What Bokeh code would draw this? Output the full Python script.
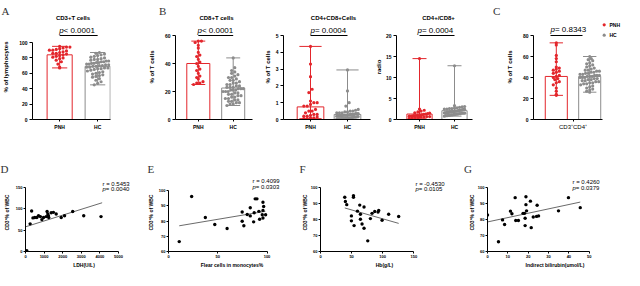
from bokeh.plotting import figure
from bokeh.layouts import row, column
from bokeh.models import Range1d
from bokeh.core.properties import value
from bokeh.embed import file_html
from bokeh.resources import INLINE

RED = "#e3262c"
GRAY = "#8c8c8c"
FONT = "Liberation Sans"
SERIF = "Liberation Serif"

groups = ["PNH", "HC"]

# ---- Panel A: CD3+ T cells (% of lymphocytes)
cd3_pnh = [95, 94, 94, 93, 92, 91, 90, 90, 89, 88, 87, 86, 86, 85, 84, 83, 82, 81, 80, 79, 77, 75, 72, 68, 67]
cd3_hc = [87, 86, 85, 84, 83, 82, 81, 80, 79, 78, 78, 77, 76, 76, 75, 75, 74, 74, 73, 73, 72, 72, 71, 71, 70,
          70, 69, 69, 68, 68, 67, 67, 66, 66, 65, 64, 63, 62, 61, 60, 59, 58, 57, 56, 55, 53, 51, 49, 47, 45]
cd3_bar = [84, 69]

# ---- Panel B: CD8+ T cells
cd8_pnh = [56, 56, 55, 53, 51, 48, 46, 45, 43, 41, 40, 38, 36, 35, 33, 31, 30, 29, 27, 26, 26, 25]
cd8_hc = [44, 37, 35, 34, 33, 32, 31, 30, 30, 29, 28, 28, 27, 26, 26, 25, 25, 24, 24, 23, 23, 23, 22, 22, 22,
          21, 21, 21, 20, 20, 20, 19, 19, 18, 18, 17, 17, 16, 16, 15, 15, 14, 14, 13, 13, 12, 12, 11, 11, 10]
cd8_bar = [40, 22.5]

# ---- CD4+CD8+ cells
dp_pnh = [4.35, 3.3, 2.55, 1.8, 1.6, 1.1, 1.0, 1.0, 0.9, 0.8, 0.8, 0.6, 0.5, 0.5, 0.4, 0.3, 0.3, 0.25, 0.2, 0.2,
          0.15, 0.1, 0.1, 0.05, 0.05]
dp_hc = [2.95, 1.7, 1.0, 0.8, 0.6, 0.55, 0.5, 0.5, 0.45, 0.45, 0.4, 0.4, 0.4, 0.35, 0.35, 0.35, 0.3, 0.3, 0.3, 0.3,
         0.28, 0.28, 0.25, 0.25, 0.25, 0.22, 0.22, 0.2, 0.2, 0.2, 0.18, 0.18, 0.15, 0.15, 0.15, 0.12, 0.12, 0.1,
         0.1, 0.1, 0.08, 0.08, 0.06, 0.06, 0.05, 0.05, 0.04, 0.03, 0.02, 0.02]
dp_bar = [0.75, 0.3]

# ---- CD4+/CD8+ ratio
ratio_pnh = [14.5, 2.5, 2.2, 2.0, 1.8, 1.6, 1.5, 1.4, 1.3, 1.2, 1.1, 1.0, 1.0, 0.9, 0.9, 0.8, 0.8, 0.7, 0.7, 0.6,
             0.6, 0.5, 0.5, 0.4, 0.3]
ratio_hc = [12.8, 3.3, 3.1, 3.0, 2.9, 2.8, 2.7, 2.6, 2.6, 2.5, 2.5, 2.4, 2.4, 2.3, 2.3, 2.2, 2.2, 2.1, 2.1, 2.0,
            2.0, 2.0, 1.9, 1.9, 1.9, 1.8, 1.8, 1.8, 1.7, 1.7, 1.7, 1.6, 1.6, 1.6, 1.5, 1.5, 1.5, 1.4, 1.4, 1.3,
            1.3, 1.2, 1.2, 1.1, 1.1, 1.0, 1.0, 0.9, 0.9, 0.8]
ratio_bar = [1.3, 2.1]

# ---- Panel C: CD3+CD4+
cd4_pnh = [73, 71, 61, 58, 55, 50, 49, 48, 47, 46, 45, 44, 42, 41, 40, 39, 38, 36, 35, 33, 30, 27, 24, 23]
cd4_hc = [60, 58, 57, 56, 54, 53, 52, 51, 50, 49, 48, 47, 47, 46, 46, 45, 45, 44, 44, 43, 43, 42, 42, 42, 41,
          41, 41, 40, 40, 40, 39, 39, 38, 38, 37, 37, 36, 36, 35, 35, 34, 34, 33, 32, 31, 30, 29, 28, 27, 26]
cd4_bar = [41, 41]

# ---- Panels D-G: correlations
ldh = [30, 70, 250, 330, 400, 500, 610, 700, 800, 880, 970, 1110, 1160, 1200, 1230, 1250, 1380, 1500, 1650,
       1920, 2100, 2540, 3130, 4060]
ldh_cd3 = [0, 2, 65, 95, 79, 80, 80, 84, 82, 75, 80, 82, 94, 88, 84, 80, 91, 92, 88, 80, 84, 94, 84, 82]
ldh_fit_x = [0, 4120]
ldh_fit_y = [58, 114.5]

flaer = [10.9, 23.5, 37.4, 47, 59.5, 74.8, 74.8, 76.5, 79.9, 83, 83, 86.4, 87, 88, 89.8, 91.8, 92.5, 95.9,
         96.6, 95.9, 95.2, 95.9, 98.6]
flaer_cd3 = [66.5, 96.1, 82.3, 77.7, 75.1, 79.9, 86, 76.9, 84.3, 88.8, 83.4, 79.5, 85.5, 94.6, 94.6, 86.4,
             81.2, 92.4, 89.6, 87, 84.2, 82, 84.2]
flaer_fit_x = [10.9, 98.3]
flaer_fit_y = [76.9, 86.4]

hb = [39, 40, 42.2, 53, 53, 49.7, 49.7, 54, 59.4, 63.1, 64.2, 64.2, 66.8, 70, 70, 76, 80.2, 82.9, 87.2, 92.5,
      93.6, 99, 109.6, 125.7]
hb_cd3 = [94.1, 91.5, 89.5, 95.1, 94.1, 82.4, 79.3, 76.3, 85.4, 89.2, 83.4, 80.3, 77.3, 88, 74.6, 66.7, 80.7,
          84, 85.2, 84.8, 85.8, 79.7, 83.4, 82]
hb_fit_x = [39, 125.7]
hb_fit_y = [87.4, 77.7]

ibil = [0, 5.4, 7.4, 8.4, 11.3, 12, 13.6, 13.9, 15.2, 17.5, 18.2, 18.5, 18.5, 18.9, 18.9, 19.2, 21.1, 21.5,
        22.5, 24.1, 24.4, 25.1, 34.9, 39.8, 45.6]
ibil_cd3 = [83, 66.1, 79.9, 77, 85.4, 83.8, 93.9, 79.5, 79.5, 84, 84, 80.9, 76.3, 94.5, 89.5, 85.6, 91.7, 75,
            81.7, 82.1, 89.1, 82.4, 85.6, 93.9, 87.6]
ibil_fit_x = [0, 45.6]
ibil_fit_y = [78.6, 91.1]


# ------------------------------------------------------------------ helpers
class Geo:
    def __init__(self, fl, fb, x0, xppu, y0, yppu):
        self.fl, self.fb, self.x0, self.xppu, self.y0, self.yppu = fl, fb, x0, xppu, y0, yppu

    def X(self, px):
        return self.x0 + (px - self.fl) / self.xppu

    def Y(self, py):
        return self.y0 + (self.fb - py) / self.yppu


def style(p, tick_font, label_font, ylab_standoff, xlab_standoff=1, tick_out=3, mstand=2):
    p.xgrid.visible = False
    p.ygrid.visible = False
    p.outline_line_color = None
    p.background_fill_color = "white"
    p.border_fill_color = "white"
    for ax in (p.xaxis[0], p.yaxis[0]):
        ax.axis_line_color = "black"
        ax.axis_line_width = 1
        ax.major_tick_line_color = "black"
        ax.major_tick_out = tick_out
        ax.major_tick_in = 0
        ax.minor_tick_line_color = None
        ax.major_label_text_font = FONT
        ax.major_label_text_font_style = "bold"
        ax.major_label_text_font_size = tick_font
        ax.major_label_text_color = "black"
        ax.major_label_standoff = mstand
        ax.axis_label_text_font = FONT
        ax.axis_label_text_font_style = "bold"
        ax.axis_label_text_font_size = label_font
        ax.axis_label_text_color = "black"
    p.yaxis[0].axis_label_standoff = ylab_standoff
    p.xaxis[0].axis_label_standoff = xlab_standoff


def panel_letter(p, text, offset, standoff):
    p.title.text = text
    p.title.align = "left"
    p.title.offset = offset
    p.title.standoff = standoff
    p.title.text_font = SERIF
    p.title.text_font_size = "11px"
    p.title.text_font_style = "normal"
    p.title.text_color = "#333333"


def swarm(vals, center, binsize, step=0.09, maxoff=0.29):
    order = sorted(range(len(vals)), key=lambda i: vals[i])
    bins = {}
    for i in order:
        bins.setdefault(int(vals[i] // binsize), []).append(i)
    xs = [center] * len(vals)
    for idx in bins.values():
        n = len(idx)
        st = step if n <= 1 else min(step, 2 * maxoff / (n - 1))
        for k, i in enumerate(idx):
            xs[i] = center + (k - (n - 1) / 2) * st
    return xs


def ptext(p, geo, px, py, rest, size, italic_w):
    p.text(x=[geo.X(px)], y=[geo.Y(py)], text=["p"], text_font=value(FONT), text_font_style="italic",
           text_font_size=size, text_align="left", text_baseline="middle", text_color="black")
    p.text(x=[geo.X(px + italic_w)], y=[geo.Y(py)], text=[rest], text_font=value(FONT),
           text_font_size=size, text_align="left", text_baseline="middle", text_color="black")


ROW1_TOP, FT, FB1, ROW1_BOT = 8, 22, 127, 142


def make_top(fig_left, fig_w, fl, fr, c1, xppu, ytop_val, ytop_px, yticks, ylabel, ylab_standoff):
    x0 = 1 - (c1 - fl) / xppu
    x1 = x0 + (fr - fl) / xppu
    yppu = (FB1 - ytop_px) / ytop_val
    y1 = (FB1 - FT) / yppu
    p = figure(width=fig_w, height=ROW1_BOT - ROW1_TOP, x_range=Range1d(x0, x1), y_range=Range1d(0, y1),
               min_border_left=fl - fig_left, min_border_right=fig_left + fig_w - fr,
               min_border_top=FT - ROW1_TOP, min_border_bottom=ROW1_BOT - FB1,
               output_backend="svg", toolbar_location=None)
    style(p, "5px", "6px", ylab_standoff, tick_out=3)
    p.yaxis[0].bounds = (0, ytop_val)
    p.yaxis[0].ticker = yticks
    p.yaxis[0].axis_label = ylabel
    p.xaxis[0].ticker = [1, 2]
    p.xaxis[0].major_label_overrides = {1: groups[0], 2: groups[1]}
    p.xaxis[0].major_tick_out = 2
    return p, Geo(fl, FB1, x0, xppu, 0, yppu)


def draw_groups(p, series, bars, positions, binsize, width=0.66, cap=0.4, step=0.09):
    for vals, bar, col, pos in zip(series, bars, [RED, GRAY], positions):
        p.vbar(x=[pos], top=[bar], width=width, fill_color="white", line_color=col, line_width=1)
        lo, hi = min(vals), max(vals)
        p.segment(x0=[pos], y0=[lo], x1=[pos], y1=[hi], line_color=col, line_width=1)
        p.segment(x0=[pos - cap / 2] * 2, y0=[lo, hi], x1=[pos + cap / 2] * 2, y1=[lo, hi],
                  line_color=col, line_width=1)
        xs = swarm(vals, pos, binsize, step=step)
        p.scatter(xs, vals, size=3.2, fill_color=col, line_color=None)


def title_p(p, geo, title, title_px, rest, p_start_px, bar_x, p_py=38, bar_py=43):
    if title:
        p.text(x=[geo.X(title_px)], y=[geo.Y(25.5)], text=[title], text_font=value(FONT), text_font_style="bold",
               text_font_size="6px", text_align="center", text_baseline="middle", text_color="black")
    ptext(p, geo, p_start_px, p_py, rest, "8px", 4.4)
    p.segment(x0=[bar_x[0]], y0=[geo.Y(bar_py)], x1=[bar_x[1]], y1=[geo.Y(bar_py)], line_color="black",
              line_width=1)


# ---- A
pA, gA = make_top(8, 142, 39, 118, 66.5, 38.5, 100, 50, [0, 20, 40, 60, 80, 100], "% of lymphocytes", 7)
draw_groups(pA, [cd3_pnh, cd3_hc], cd3_bar, [1, 2], 4.5)
title_p(pA, gA, "CD3+T cells", 80, " < 0.0001", 66, (1, 2))
panel_letter(pA, "A", 8 - 39, -4)

# ---- B1
pB1, gB1 = make_top(150, 112, 183, 260, 205.8, 34.9, 60, 43, [0, 20, 40, 60], "% of T cells", 7)
draw_groups(pB1, [cd8_pnh, cd8_hc], cd8_bar, [1, 2], 2.5)
title_p(pB1, gB1, "CD8+T cells", 224, " < 0.0001", 205, (1, 2))
panel_letter(pB1, "B", 166.5 - 183, -4)

# ---- B2
pB2, gB2 = make_top(262, 118, 291, 378, 318, 37, 5, 43, [0, 1, 2, 3, 4, 5], "% of T cells", 2)
draw_groups(pB2, [dp_pnh, dp_hc], dp_bar, [1, 2], 0.2, width=0.72, cap=0.6)
title_p(pB2, gB2, "CD4+CD8+Cells", 341, "= 0.0004", 318, (1, 2))

# ---- B3
pB3, gB3 = make_top(380, 102, 404, 480, 427, 35, 20, 43, [0, 5, 10, 15, 20], "radio", 1)
draw_groups(pB3, [ratio_pnh, ratio_hc], ratio_bar, [1, 2], 0.8, width=0.72, cap=0.4)
title_p(pB3, gB3, "CD4+/CD8+", 446, "= 0.0004", 425, (1, 2))

# ---- C
pC, gC = make_top(482, 150, 541, 630, 563.8, 33.4, 80, 43, [0, 20, 40, 60, 80], "% of T cells", 7)
pC.xaxis[0].bounds = (gC.x0, gC.X(610))
pC.xaxis[0].ticker = [1.5]
pC.xaxis[0].major_label_overrides = {1.5: "CD3\u207aCD4\u207a"}
pC.xaxis[0].major_label_text_font_style = "normal"
pC.xaxis[0].major_label_text_font_size = "6px"
draw_groups(pC, [cd4_pnh, cd4_hc], cd4_bar, [1, 2], 3.3)
title_p(pC, gC, None, 0, "= 0.8343", 558, (gC.X(558), gC.X(590)), p_py=37, bar_py=43)
pC.scatter([gC.X(611.7)] * 2, [gC.Y(32.3), gC.Y(42.7)], size=3.2, fill_color=[RED, GRAY], line_color=None)
pC.text(x=[gC.X(617)] * 2, y=[gC.Y(32.3), gC.Y(42.7)], text=groups, text_font=value(FONT),
        text_font_style="bold", text_font_size="5px", text_align="left", text_baseline="middle",
        text_color="black")
panel_letter(pC, "C", 500.5 - 541, -4)

# ------------------------------------------------------------------ bottom row
ROW2_TOP, FT2, FB2, ROW2_BOT = 142, 181, 262, 278


def make_bot(fig_left, fig_w, fl, fr, xppu, xb, y0, yppu, yb, xticks, yticks, xlabel, ylab_standoff):
    x1 = (fr - fl) / xppu
    y1 = y0 + (FB2 - FT2) / yppu
    p = figure(width=fig_w, height=ROW2_BOT - ROW2_TOP, x_range=Range1d(0, x1), y_range=Range1d(y0, y1),
               min_border_left=fl - fig_left, min_border_right=fig_left + fig_w - fr,
               min_border_top=FT2 - ROW2_TOP, min_border_bottom=ROW2_BOT - FB2,
               output_backend="svg", toolbar_location=None)
    style(p, "4px", "5px", ylab_standoff, xlab_standoff=1, tick_out=2, mstand=1)
    p.xaxis[0].bounds = xb
    p.yaxis[0].bounds = yb
    p.xaxis[0].ticker = xticks
    p.yaxis[0].ticker = yticks
    p.xaxis[0].axis_label = xlabel
    p.yaxis[0].axis_label = "CD3\u207a% of WBC"
    return p, Geo(fl, FB2, 0, xppu, y0, yppu)


def corr(p, g, xs, ys, fx, fy, rtext, ptxt, tx, ty):
    p.line(fx, fy, line_color="#444444", line_width=0.8)
    p.scatter(xs, ys, size=3.4, fill_color="black", line_color=None)
    p.text(x=[g.X(tx)], y=[g.Y(ty)], text=[rtext], text_font=value(FONT), text_font_size="6px",
           text_align="left", text_baseline="middle", text_color="black")
    ptext(p, g, tx, ty + 5.8, ptxt, "6px", 3.3)


pD, gD = make_bot(8, 144, 33, 150, 0.0186, (0, 5000), 0, 0.442, (0, 150),
                  [0, 1000, 2000, 3000, 4000, 5000], [0, 50, 100, 150], "LDH(U/L)", 3)
corr(pD, gD, ldh, ldh_cd3, ldh_fit_x, ldh_fit_y, "r = 0.5453", " = 0.0040", 110, 191.5)
panel_letter(pD, "D", 8 - 33, -3)

pE, gE = make_bot(152, 153, 176, 303, 0.985, (0, 100), 60, 1.58, (60, 100),
                  [0, 50, 100], [60, 70, 80, 90, 100], "Flear cells in monocytes%", 2)
corr(pE, gE, flaer, flaer_cd3, flaer_fit_x, flaer_fit_y, "r = 0.4099", " = 0.0303", 260, 189)
panel_letter(pE, "E", 155 - 176, -3)

pF, gF = make_bot(305, 153, 328, 456, 0.622, (0, 150), 60, 1.65, (60, 100),
                  [0, 50, 100, 150], [60, 70, 80, 90, 100], "Hb(g/L)", 0)
corr(pF, gF, hb, hb_cd3, hb_fit_x, hb_fit_y, "r = -0.4530", " = 0.0105", 423, 191.5)
panel_letter(pF, "F", 307 - 328, -3)

pG, gG = make_bot(458, 174, 495, 630, 2.034, (0, 50), 60, 1.65, (60, 100),
                  [0, 10, 20, 30, 40, 50], [60, 70, 80, 90, 100], "Indirect bilirubin(umol/L)", 0)
corr(pG, gG, ibil, ibil_cd3, ibil_fit_x, ibil_fit_y, "r = 0.4260", " = 0.0379", 580, 190)
panel_letter(pG, "G", 471.5 - 495, -3)

layout = column(row(pA, pB1, pB2, pB3, pC, spacing=0), row(pD, pE, pF, pG, spacing=0), spacing=0)

open("out.html", "w").write(file_html(layout, INLINE))
